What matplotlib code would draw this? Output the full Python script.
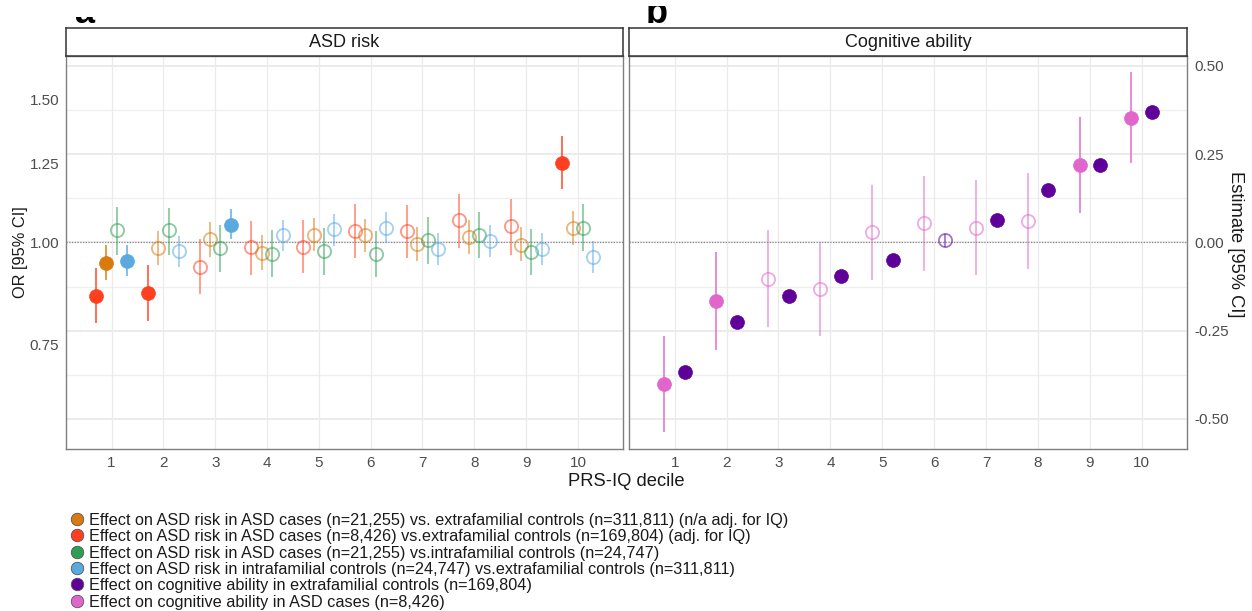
import numpy as np
import matplotlib
matplotlib.use("Agg")
import matplotlib.pyplot as plt
from matplotlib.lines import Line2D
from matplotlib.transforms import Bbox
from matplotlib.ticker import NullLocator

plt.rcParams['font.family'] = ['Liberation Sans', 'DejaVu Sans']

deciles = np.arange(1, 11)
decile_labels = [str(d) for d in deciles]

# ---- ASD risk: odds ratios with 95% CI per PRS-IQ decile ----
# ASD cases vs. extrafamilial controls (not adjusted for IQ)
extra_or = [0.944, 0.985, 1.009, 0.971, 1.022, 1.021, 0.996, 1.016, 0.994, 1.043]
extra_lo = [0.900, 0.937, 0.960, 0.926, 0.976, 0.973, 0.948, 0.968, 0.948, 0.994]
extra_hi = [0.992, 1.033, 1.059, 1.020, 1.073, 1.070, 1.044, 1.065, 1.044, 1.093]
extra_sig = [True, False, False, False, False, False, False, False, False, False]

# ASD cases vs. extrafamilial controls (adjusted for IQ)
iqadj_or = [0.860, 0.867, 0.932, 0.987, 0.988, 1.033, 1.033, 1.065, 1.047, 1.254]
iqadj_lo = [0.797, 0.800, 0.863, 0.913, 0.918, 0.956, 0.956, 0.985, 0.966, 1.165]
iqadj_hi = [0.929, 0.937, 1.009, 1.062, 1.067, 1.114, 1.112, 1.148, 1.130, 1.350]
iqadj_sig = [True, True, False, False, False, False, False, False, False, True]

# ASD cases vs. intrafamilial controls
intra_or = [1.035, 1.035, 0.985, 0.968, 0.976, 0.968, 1.007, 1.020, 0.974, 1.043]
intra_lo = [0.966, 0.965, 0.920, 0.907, 0.913, 0.906, 0.942, 0.956, 0.911, 0.976]
intra_hi = [1.107, 1.104, 1.050, 1.036, 1.043, 1.033, 1.076, 1.090, 1.040, 1.114]
intra_sig = [False] * 10

# Intrafamilial controls vs. extrafamilial controls
sib_or = [0.950, 0.976, 1.052, 1.020, 1.038, 1.043, 0.982, 1.004, 0.982, 0.960]
sib_lo = [0.909, 0.932, 1.009, 0.976, 0.990, 0.999, 0.939, 0.960, 0.939, 0.918]
sib_hi = [0.992, 1.018, 1.098, 1.065, 1.083, 1.090, 1.026, 1.050, 1.026, 1.004]
sib_sig = [True, False, True, False, False, False, False, False, False, False]

# ---- Cognitive ability: estimates with 95% CI ----
cog_ctrl_est = [-0.366, -0.224, -0.152, -0.094, -0.051, 0.007, 0.063, 0.148, 0.220, 0.368]
cog_ctrl_lo = [-0.378, -0.236, -0.164, -0.106, -0.063, -0.012, 0.051, 0.136, 0.208, 0.356]
cog_ctrl_hi = [-0.354, -0.212, -0.140, -0.082, -0.039, 0.025, 0.075, 0.160, 0.232, 0.380]
cog_ctrl_sig = [True, True, True, True, True, False, True, True, True, True]

cog_case_est = [-0.400, -0.167, -0.103, -0.132, 0.029, 0.054, 0.042, 0.060, 0.219, 0.352]
cog_case_lo = [-0.538, -0.306, -0.240, -0.266, -0.105, -0.080, -0.093, -0.074, 0.082, 0.224]
cog_case_hi = [-0.264, -0.026, 0.034, 0.001, 0.162, 0.188, 0.176, 0.196, 0.356, 0.482]
cog_case_sig = [True, True, False, False, False, False, False, False, True, True]

legend_labels = [
    "Effect on ASD risk in ASD cases (n=21,255) vs. extrafamilial controls (n=311,811) (n/a adj. for IQ)",
    "Effect on ASD risk in ASD cases (n=8,426) vs.extrafamilial controls (n=169,804) (adj. for IQ)",
    "Effect on ASD risk in ASD cases (n=21,255) vs.intrafamilial controls (n=24,747)",
    "Effect on ASD risk in intrafamilial controls (n=24,747) vs.extrafamilial controls (n=311,811)",
    "Effect on cognitive ability in extrafamilial controls (n=169,804)",
    "Effect on cognitive ability in ASD cases (n=8,426)",
]

C_ORANGE = '#D97A0F'
C_RED = '#FF4020'
C_GREEN = '#2E9E55'
C_BLUE = '#5AAAE0'
C_PURPLE = '#5F0099'
C_PINK = '#E066CC'
legend_colors = [C_ORANGE, C_RED, C_GREEN, C_BLUE, C_PURPLE, C_PINK]

W, H = 1252, 611
fig = plt.figure(figsize=(W / 100, H / 100), dpi=100)


def px_rect(x0, y0, x1, y1):
    return [x0 / W, 1 - y1 / H, (x1 - x0) / W, (y1 - y0) / H]


ax1 = fig.add_axes(px_rect(66, 56, 623, 449))
ax2 = fig.add_axes(px_rect(629, 56, 1187, 449))

YMIN, YMAX = -0.585, 0.528
grid_major = np.array([-0.5, -0.25, 0.0, 0.25, 0.5])
grid_minor = np.array([-0.375, -0.125, 0.125, 0.375])


def style_panel(ax):
    ax.set_facecolor('white')
    ax.set_xlim(0.12, 10.87)
    ax.set_xticks(deciles)
    ax.set_xticklabels(decile_labels)
    ax.grid(axis='x', color='#EBEBEB', lw=0.9, zorder=0)
    ax.set_axisbelow(True)
    for s in ax.spines.values():
        s.set_color('#7F7F7F')
        s.set_linewidth(1.0)
    ax.tick_params(length=0, labelsize=11, colors='#4D4D4D', pad=5)


def draw_series(ax, x, est, lo, hi, sig, color):
    x = np.asarray(x)
    est, lo, hi = np.asarray(est), np.asarray(lo), np.asarray(hi)
    sig = np.asarray(sig)
    nsig = ~sig
    ax.vlines(x[sig], lo[sig], hi[sig], color=color, alpha=0.75, lw=1.4, zorder=3)
    ax.vlines(x[nsig], lo[nsig], hi[nsig], color=color, alpha=0.5, lw=1.4, zorder=3)
    ax.plot(x[sig], est[sig], 'o', ms=10, color=color, mec=color, mew=0.5, ls='none', zorder=4)
    ax.plot(x[nsig], est[nsig], 'o', ms=9.5, mfc='none', mec=color, mew=1.3,
            alpha=0.55, ls='none', zorder=4)


# ---- Panel a: ASD risk (odds ratios on a log scale) ----
style_panel(ax1)
ax1.set_yscale('log')
ax1.set_ylim(np.exp(YMIN), np.exp(YMAX))
for g in grid_major:
    ax1.axhline(np.exp(g), color='#E5E5E5', lw=1.1, zorder=0)
for g in grid_minor:
    ax1.axhline(np.exp(g), color='#EFEFEF', lw=0.9, zorder=0)
ax1.axhline(1.0, color='#8C8C8C', lw=0.9, ls=(0, (1, 1.2)), zorder=1)
ax1.set_yticks([0.75, 1.0, 1.25, 1.5])
ax1.set_yticklabels(['0.75', '1.00', '1.25', '1.50'])
ax1.yaxis.set_minor_locator(NullLocator())
ax1.set_ylabel('OR [95% CI]', fontsize=11.8, color='#1A1A1A', labelpad=1)

draw_series(ax1, deciles - 0.3, iqadj_or, iqadj_lo, iqadj_hi, iqadj_sig, C_RED)
draw_series(ax1, deciles - 0.1, extra_or, extra_lo, extra_hi, extra_sig, C_ORANGE)
draw_series(ax1, deciles + 0.1, intra_or, intra_lo, intra_hi, intra_sig, C_GREEN)
draw_series(ax1, deciles + 0.3, sib_or, sib_lo, sib_hi, sib_sig, C_BLUE)

# ---- Panel b: cognitive ability ----
style_panel(ax2)
ax2.set_ylim(YMIN, YMAX)
for g in grid_major:
    ax2.axhline(g, color='#E5E5E5', lw=1.1, zorder=0)
for g in grid_minor:
    ax2.axhline(g, color='#EFEFEF', lw=0.9, zorder=0)
ax2.axhline(0.0, color='#8C8C8C', lw=0.9, ls=(0, (1, 1.2)), zorder=1)
ax2.yaxis.tick_right()
ax2.yaxis.set_label_position('right')
ax2.set_yticks(grid_major)
ax2.set_yticklabels(['-0.50', '-0.25', '0.00', '0.25', '0.50'])
ax2.set_ylabel('Estimate [95% CI]', fontsize=13.2, color='#1A1A1A', rotation=-90)
ax2.yaxis.set_label_coords(1.0 + 57 / 558, 0.52)

draw_series(ax2, deciles - 0.2, cog_case_est, cog_case_lo, cog_case_hi, cog_case_sig, C_PINK)
draw_series(ax2, deciles + 0.2, cog_ctrl_est, cog_ctrl_lo, cog_ctrl_hi, cog_ctrl_sig, C_PURPLE)

# ---- facet strips ----
for rect, title in [(px_rect(66, 28, 623, 56), 'ASD risk'),
                    (px_rect(629, 28, 1187, 56), 'Cognitive ability')]:
    sax = fig.add_axes(rect)
    sax.set_xticks([])
    sax.set_yticks([])
    sax.set_facecolor('white')
    for s in sax.spines.values():
        s.set_color('#333333')
        s.set_linewidth(1.1)
    sax.text(0.5, 0.48, title, ha='center', va='center', fontsize=13, color='#1A1A1A',
             transform=sax.transAxes)

fig.text(626 / W, 1 - 481 / H, 'PRS-IQ decile', ha='center', va='center',
         fontsize=13.2, color='#1A1A1A')

# panel letters, cut at the top edge
for letter, xpx, clip_top in [('a', 75, 17), ('b', 646, 6)]:
    t = fig.text(xpx / W, 1 - 23 / H, letter, ha='left', va='baseline',
                 fontsize=26, fontweight='bold', color='black')
    t.set_clip_box(Bbox.from_extents(0, 0, W, H - clip_top))
    t.set_clip_on(True)

# ---- legend: one row per series ----
row_y0, row_step = 519, 16.3
for i, (label, color) in enumerate(zip(legend_labels, legend_colors)):
    ypx = row_y0 + i * row_step
    fig.add_artist(Line2D([77 / W], [1 - ypx / H], transform=fig.transFigure,
                          marker='o', ls='none', ms=9, mfc=color, mec='#555555', mew=0.6))
    fig.text(89 / W, 1 - ypx / H, label, ha='left', va='center_baseline',
             fontsize=11.7, color='#1A1A1A')

fig.savefig('out.png', dpi=100)
